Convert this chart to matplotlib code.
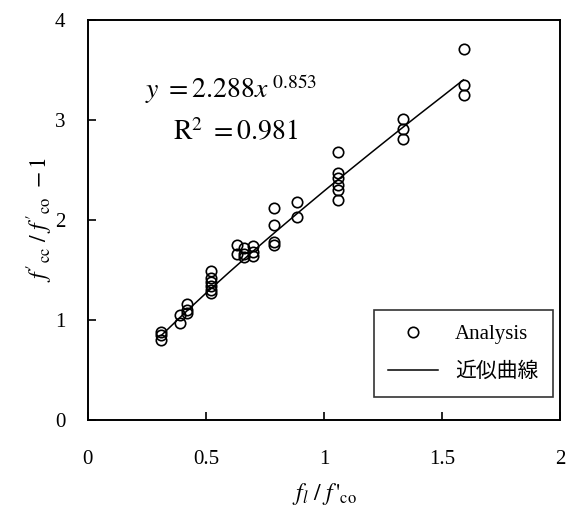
import matplotlib
matplotlib.use('agg')
import matplotlib.pyplot as plt
import numpy as np

# analysis points
x_pts = [0.31, 0.31, 0.31, 0.39, 0.39, 0.42, 0.42, 0.42,
         0.52, 0.52, 0.52, 0.52, 0.52, 0.52,
         0.63, 0.63, 0.66, 0.66, 0.66, 0.70, 0.70, 0.70,
         0.79, 0.79, 0.79, 0.79, 0.885, 0.885,
         1.06, 1.06, 1.06, 1.06, 1.06, 1.06,
         1.335, 1.335, 1.335, 1.593, 1.593, 1.593]
y_pts = [0.88, 0.85, 0.80, 1.05, 0.97, 1.16, 1.10, 1.07,
         1.49, 1.42, 1.38, 1.34, 1.30, 1.27,
         1.75, 1.66, 1.72, 1.66, 1.63, 1.74, 1.68, 1.64,
         2.12, 1.95, 1.78, 1.75, 2.18, 2.03,
         2.68, 2.47, 2.42, 2.35, 2.30, 2.20,
         3.01, 2.91, 2.81, 3.71, 3.35, 3.25]

# trend line y = 2.288 x^0.853
x_fit = [0.31, 0.4, 0.5, 0.6, 0.7, 0.8, 0.9, 1.0, 1.1, 1.2, 1.3, 1.4, 1.5, 1.59]
y_fit = [0.842, 1.047, 1.267, 1.480, 1.688, 1.891, 2.091, 2.288, 2.482, 2.673, 2.862, 3.049, 3.233, 3.40]

xticks = [0, 0.5, 1, 1.5, 2]
xticklabels = ['0', '0.5', '1', '1.5', '2']
yticks = [0, 1, 2, 3, 4]

plt.rcParams['font.family'] = ['Liberation Serif', 'Noto Sans CJK JP']
plt.rcParams['mathtext.fontset'] = 'stix'

fig = plt.figure(figsize=(5.74, 5.09), dpi=100)
ax = fig.add_axes([0.153, 0.175, 0.823, 0.786])

ax.plot(x_pts, y_pts, 'o', mfc='none', mec='black', ms=7.5, mew=1.2, label='Analysis')
ax.plot(x_fit, y_fit, '-', color='black', lw=1.1, label='近似曲線')

ax.set_xlim(0, 2)
ax.set_ylim(0, 4)
ax.set_xticks(xticks)
ax.set_xticklabels(xticklabels)
ax.set_yticks(yticks)
ax.tick_params(direction='in', length=6, width=1.2, labelsize=15, pad=22)
ax.tick_params(axis='y', pad=16)
for s in ax.spines.values():
    s.set_linewidth(1.4)

ax.set_xlabel(r"$f_{l}\ /\ f\,'_{\mathrm{co}}$", fontsize=17, labelpad=8)
ax.set_ylabel(r"$f'_{\mathrm{cc}}\ /\ f'_{\mathrm{co}}\ -1$", fontsize=17)
ax.yaxis.set_label_coords(-0.07, 0.5)

ax.text(0.24, 3.22, r"$y\ =\mathrm{2.288}x^{\ \mathrm{0.853}}$", fontsize=20)
ax.text(0.36, 2.80, r"$\mathrm{R}^{2}\ = \mathrm{0.981}$", fontsize=20)

leg = ax.legend(loc='lower right', bbox_to_anchor=(0.985, 0.058), fontsize=15,
                frameon=True, fancybox=False, edgecolor='black', borderaxespad=0,
                handlelength=2.4, borderpad=0.7, labelspacing=0.9)
leg.get_frame().set_linewidth(1.2)

plt.savefig("out.png", dpi=100)
